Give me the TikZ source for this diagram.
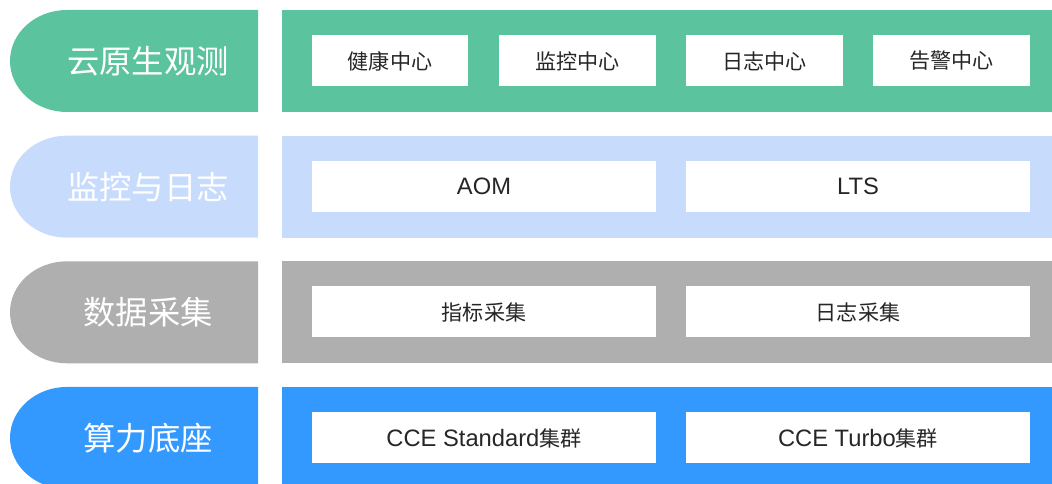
\documentclass[tikz,border=0pt]{standalone}
\usepackage{fontspec}
\setmainfont{Liberation Sans}
\newfontfamily\cjk{Noto Sans CJK SC}
\usetikzlibrary{positioning}
\definecolor{C_green}{RGB}{91,196,159}
\definecolor{C_sky}{RGB}{199,220,252}
\definecolor{C_gray}{RGB}{175,175,175}
\definecolor{C_blue}{RGB}{51,153,255}
\definecolor{C_text}{RGB}{38,38,38}

\begin{document}
\begin{tikzpicture}
  \tikzset{
    bandlabel/.style={font=\cjk\fontsize{18.4}{22}\selectfont, text=white, inner sep=0pt},
    cell/.style={rectangle, fill=white, minimum height=1.02cm, inner sep=0pt, text=C_text, font=\fontsize{13.5}{16}\selectfont},
    cellS/.style={cell, minimum width=3.13cm},
    cellL/.style={cell, minimum width=6.88cm},
    zh/.style={font=\cjk\fontsize{12}{14}\selectfont}
  }
  \useasboundingbox (0,0) rectangle (21.04,-9.68);
  \clip (0,0) rectangle (21.04,-9.68);

  % bands: left tab + wide panel
  \foreach \i/\col/\lab in {0/C_green/云原生观测,1/C_sky/监控与日志,2/C_gray/数据采集,3/C_blue/算力底座} {
    \pgfmathsetmacro{\yt}{-0.2-2.513*\i}
    \fill[\col] (5.16,\yt) -- (1.34,\yt) arc[start angle=90, end angle=270, x radius=1.14, y radius=1.02] -- (5.16,\yt-2.04) -- cycle;
    \fill[\col] (5.64,\yt) rectangle (21.3,\yt-2.04);
    \node[bandlabel] (lab\i) at (2.96,\yt-1.02) {\lab};
  }

  % row 1
  \node[cellS, zh] (health) at (7.80,-1.22) {健康中心};
  \node[cellS, zh] (monitor) at (11.55,-1.22) {监控中心};
  \node[cellS, zh] (logctr) at (15.29,-1.22) {日志中心};
  \node[cellS, zh] (alarm) at (19.03,-1.22) {告警中心};

  % row 2
  \node[cellL] (aom) at (9.68,-3.73) {AOM};
  \node[cellL] (lts) at (17.16,-3.73) {LTS};

  % row 3
  \node[cellL, zh] (metric) at (9.68,-6.24) {指标采集};
  \node[cellL, zh] (logcol) at (17.16,-6.24) {日志采集};

  % row 4
  \node[cellL] (std) at (9.68,-8.76) {CCE Standard{\cjk\fontsize{12}{14}\selectfont 集群}};
  \node[cellL] (turbo) at (17.16,-8.76) {CCE Turbo{\cjk\fontsize{12}{14}\selectfont 集群}};
\end{tikzpicture}
\end{document}
